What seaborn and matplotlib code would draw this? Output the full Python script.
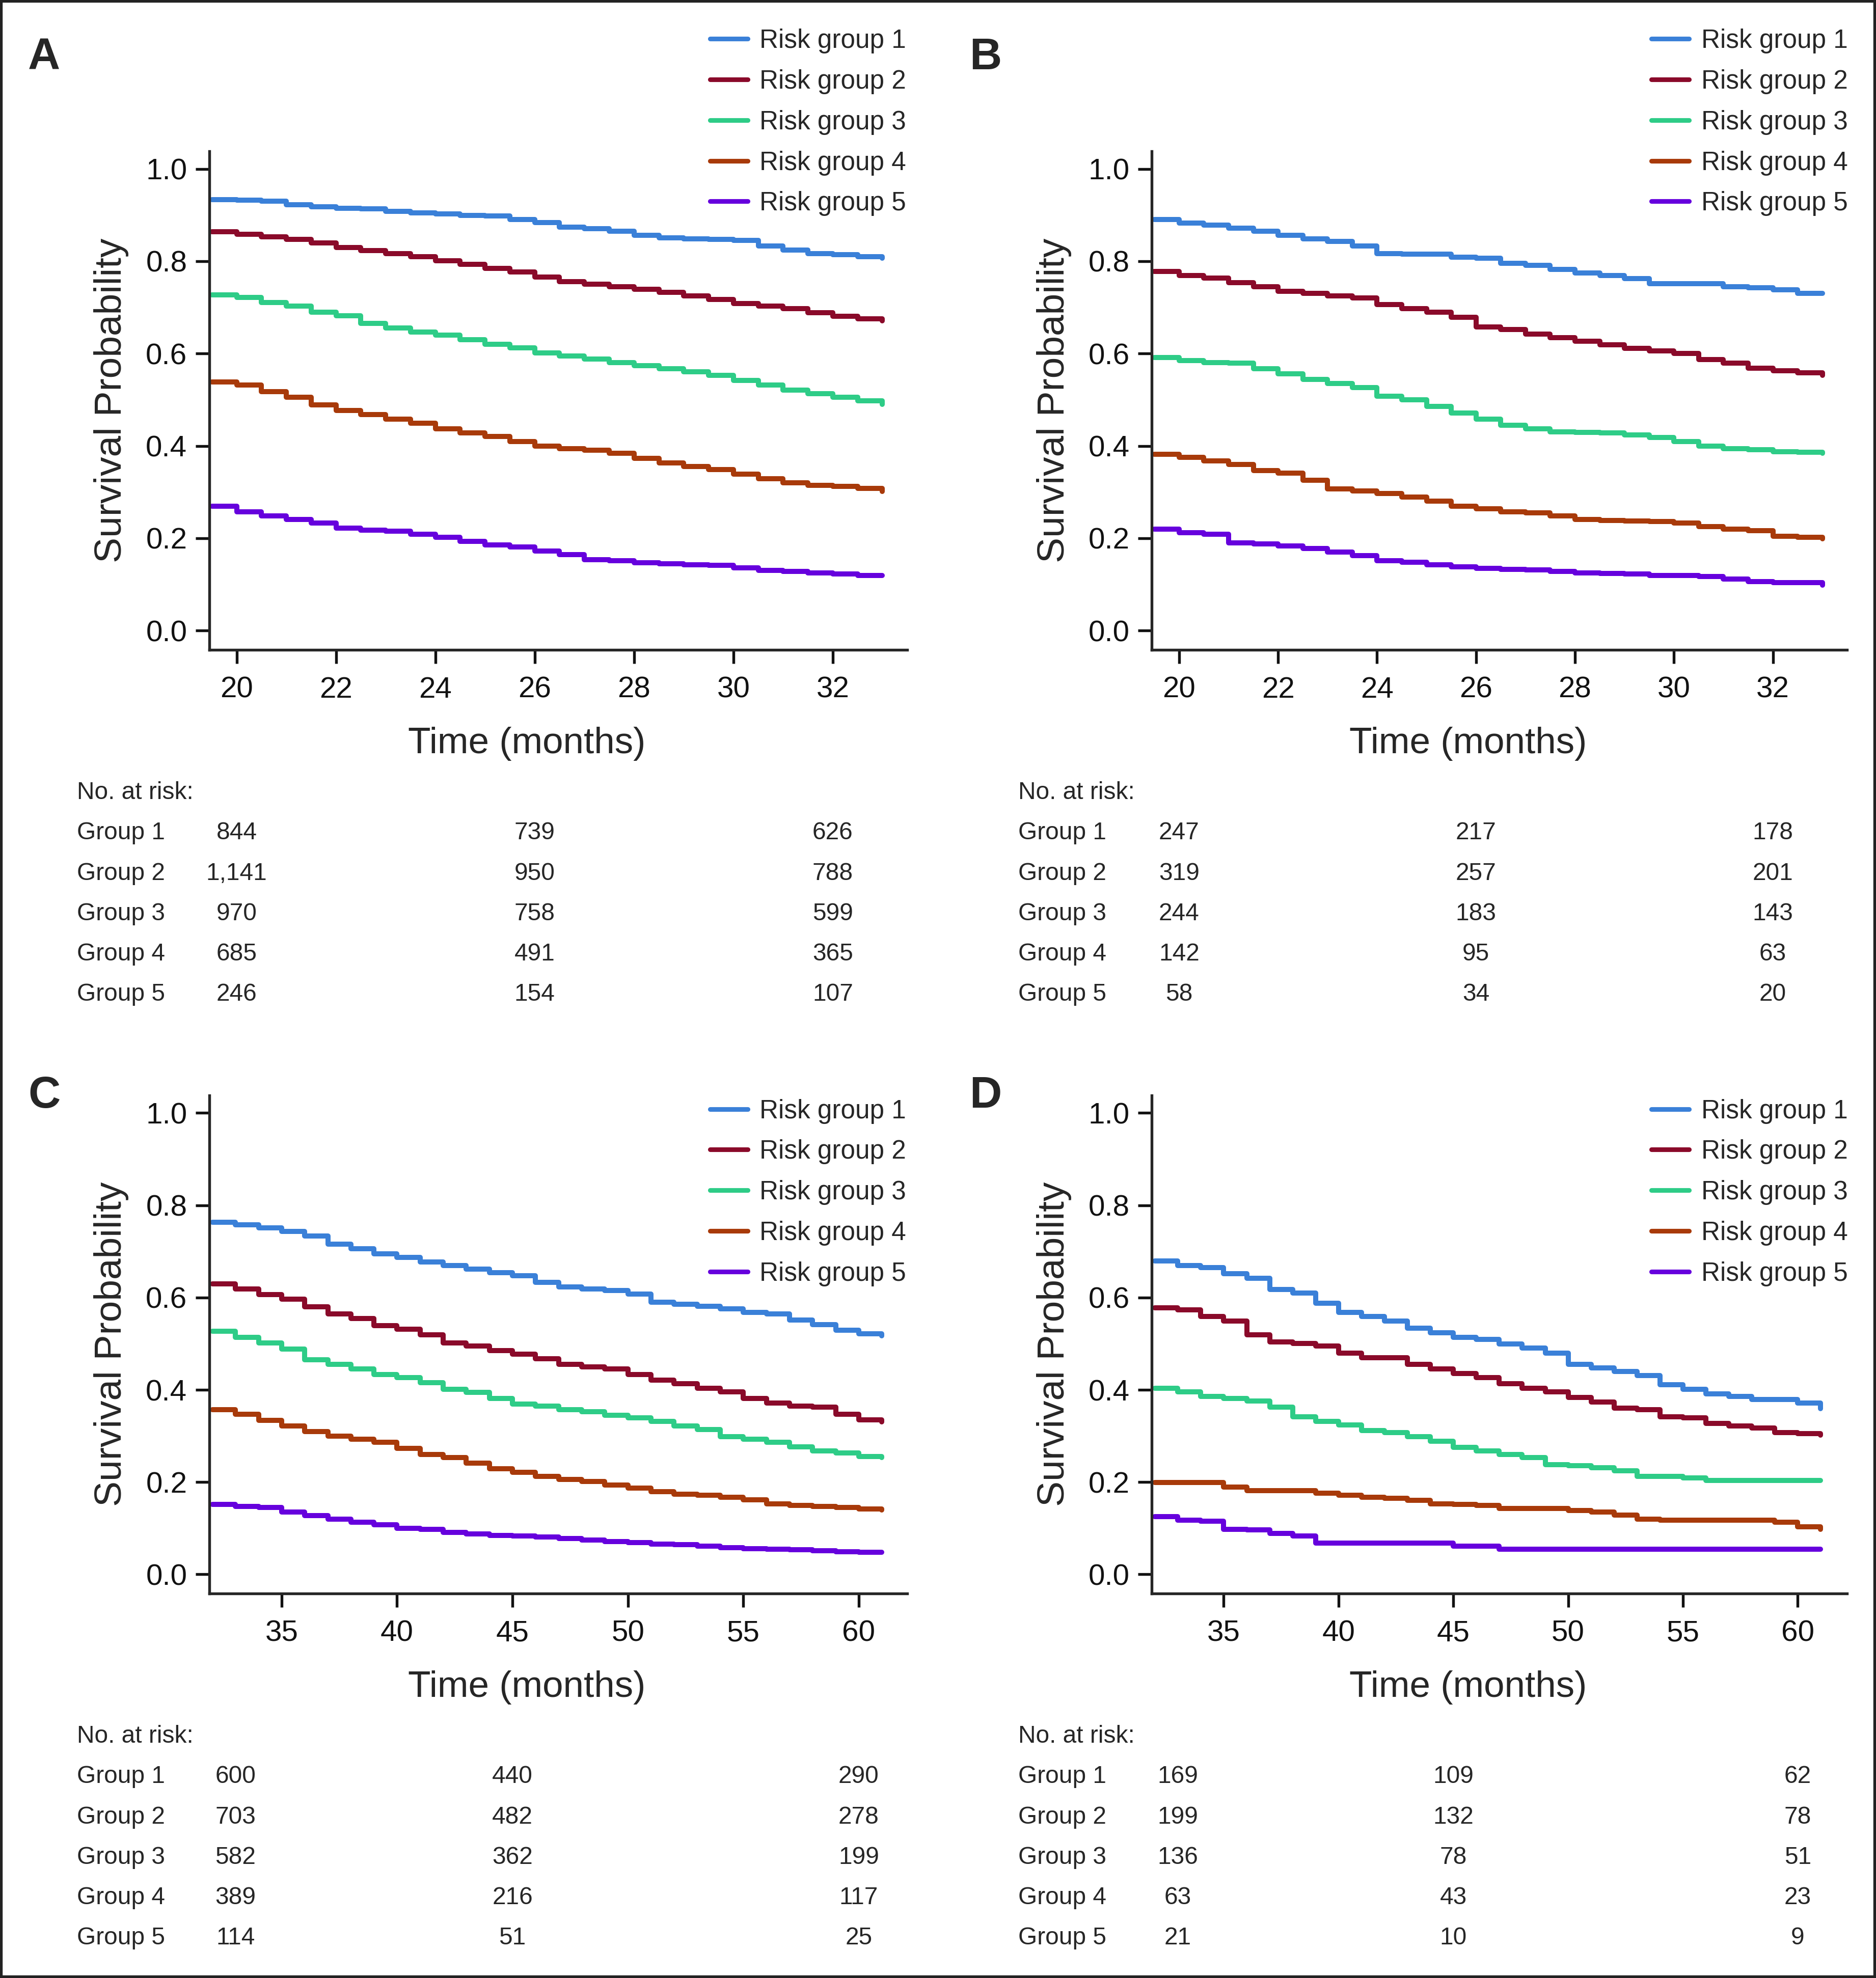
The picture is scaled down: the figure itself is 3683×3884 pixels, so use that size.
import matplotlib
matplotlib.use('Agg')
import matplotlib.pyplot as plt
import matplotlib.transforms as mtransforms
from matplotlib import font_manager
from matplotlib.patches import Rectangle
import seaborn as sns

# colours of the five risk groups
COLORS = ['#3A80D8', '#8A0A2A', '#2ECC87', '#A83A0A', '#6600DD']
GROUP_LABELS = ['Risk group 1', 'Risk group 2', 'Risk group 3', 'Risk group 4', 'Risk group 5']

# panels A and B: 19.5 - 33 months
times_ab = [19.5, 20, 20.5, 21, 21.5, 22, 22.5, 23, 23.5, 24, 24.5, 25, 25.5, 26,
            26.5, 27, 27.5, 28, 28.5, 29, 29.5, 30, 30.5, 31, 31.5, 32, 32.5, 33]

surv_a1 = [0.933, 0.932, 0.930, 0.922, 0.918, 0.915, 0.913, 0.908, 0.905, 0.903, 0.899, 0.898, 0.890, 0.884,
           0.874, 0.870, 0.865, 0.856, 0.851, 0.849, 0.847, 0.845, 0.833, 0.824, 0.817, 0.814, 0.810, 0.807]
surv_a2 = [0.864, 0.858, 0.853, 0.847, 0.840, 0.830, 0.823, 0.817, 0.810, 0.801, 0.793, 0.784, 0.777, 0.766,
           0.756, 0.750, 0.745, 0.739, 0.733, 0.725, 0.717, 0.708, 0.703, 0.697, 0.689, 0.681, 0.675, 0.671]
surv_a3 = [0.727, 0.722, 0.711, 0.703, 0.690, 0.682, 0.665, 0.655, 0.647, 0.640, 0.630, 0.620, 0.612, 0.601,
           0.595, 0.588, 0.580, 0.574, 0.567, 0.561, 0.553, 0.542, 0.532, 0.521, 0.513, 0.505, 0.498, 0.490]
surv_a4 = [0.539, 0.532, 0.518, 0.505, 0.489, 0.477, 0.468, 0.458, 0.449, 0.437, 0.428, 0.420, 0.410, 0.400,
           0.394, 0.391, 0.384, 0.373, 0.363, 0.356, 0.349, 0.339, 0.329, 0.320, 0.315, 0.312, 0.308, 0.301]
surv_a5 = [0.270, 0.257, 0.248, 0.241, 0.233, 0.222, 0.218, 0.215, 0.209, 0.202, 0.193, 0.186, 0.181, 0.172,
           0.165, 0.154, 0.151, 0.147, 0.145, 0.143, 0.141, 0.136, 0.130, 0.128, 0.125, 0.123, 0.119, 0.119]

surv_b1 = [0.890, 0.883, 0.878, 0.872, 0.865, 0.856, 0.849, 0.843, 0.833, 0.817, 0.815, 0.815, 0.809, 0.807,
           0.796, 0.791, 0.782, 0.775, 0.769, 0.762, 0.751, 0.751, 0.751, 0.745, 0.743, 0.738, 0.730, 0.730]
surv_b2 = [0.778, 0.769, 0.764, 0.754, 0.745, 0.735, 0.730, 0.725, 0.720, 0.706, 0.697, 0.690, 0.679, 0.658,
           0.652, 0.642, 0.634, 0.627, 0.619, 0.611, 0.606, 0.600, 0.587, 0.579, 0.568, 0.563, 0.558, 0.553]
surv_b3 = [0.592, 0.585, 0.581, 0.579, 0.567, 0.556, 0.544, 0.535, 0.526, 0.508, 0.500, 0.486, 0.471, 0.458,
           0.445, 0.437, 0.431, 0.429, 0.428, 0.424, 0.418, 0.410, 0.400, 0.394, 0.392, 0.387, 0.386, 0.384]
surv_b4 = [0.382, 0.375, 0.368, 0.360, 0.347, 0.341, 0.326, 0.307, 0.302, 0.297, 0.289, 0.280, 0.270, 0.264,
           0.257, 0.255, 0.248, 0.241, 0.239, 0.238, 0.236, 0.233, 0.225, 0.220, 0.217, 0.204, 0.202, 0.199]
surv_b5 = [0.220, 0.212, 0.209, 0.190, 0.188, 0.183, 0.178, 0.170, 0.162, 0.151, 0.148, 0.143, 0.138, 0.135,
           0.133, 0.132, 0.128, 0.125, 0.124, 0.123, 0.119, 0.119, 0.117, 0.112, 0.106, 0.104, 0.104, 0.098]

# panels C and D: 32 - 61 months
times_cd = [32, 33, 34, 35, 36, 37, 38, 39, 40, 41, 42, 43, 44, 45, 46,
            47, 48, 49, 50, 51, 52, 53, 54, 55, 56, 57, 58, 59, 60, 61]

surv_c1 = [0.763, 0.758, 0.751, 0.743, 0.733, 0.716, 0.706, 0.695, 0.687, 0.677, 0.669, 0.662, 0.654, 0.647, 0.633,
           0.623, 0.618, 0.615, 0.608, 0.590, 0.585, 0.581, 0.575, 0.568, 0.564, 0.551, 0.541, 0.529, 0.521, 0.517]
surv_c2 = [0.630, 0.618, 0.606, 0.596, 0.580, 0.564, 0.554, 0.539, 0.531, 0.519, 0.502, 0.495, 0.485, 0.477, 0.467,
           0.455, 0.450, 0.445, 0.433, 0.421, 0.413, 0.403, 0.396, 0.381, 0.371, 0.365, 0.362, 0.347, 0.335, 0.330]
surv_c3 = [0.527, 0.514, 0.501, 0.488, 0.465, 0.455, 0.445, 0.433, 0.426, 0.416, 0.401, 0.394, 0.381, 0.369, 0.365,
           0.357, 0.352, 0.345, 0.339, 0.332, 0.322, 0.314, 0.298, 0.293, 0.286, 0.276, 0.268, 0.263, 0.255, 0.253]
surv_c4 = [0.357, 0.347, 0.334, 0.322, 0.310, 0.300, 0.293, 0.286, 0.273, 0.260, 0.253, 0.241, 0.229, 0.221, 0.212,
           0.206, 0.201, 0.194, 0.187, 0.179, 0.174, 0.171, 0.167, 0.162, 0.153, 0.150, 0.147, 0.145, 0.142, 0.140]
surv_c5 = [0.152, 0.147, 0.145, 0.135, 0.127, 0.120, 0.113, 0.108, 0.100, 0.098, 0.091, 0.088, 0.084, 0.083, 0.081,
           0.078, 0.074, 0.071, 0.069, 0.066, 0.064, 0.061, 0.058, 0.056, 0.054, 0.053, 0.051, 0.049, 0.048, 0.048]

surv_d1 = [0.679, 0.669, 0.665, 0.652, 0.642, 0.617, 0.610, 0.588, 0.568, 0.559, 0.549, 0.534, 0.524, 0.514, 0.509,
           0.499, 0.490, 0.480, 0.455, 0.448, 0.440, 0.431, 0.411, 0.401, 0.391, 0.386, 0.379, 0.379, 0.371, 0.359]
surv_d2 = [0.578, 0.573, 0.559, 0.549, 0.519, 0.504, 0.500, 0.495, 0.480, 0.470, 0.470, 0.455, 0.445, 0.435, 0.426,
           0.413, 0.403, 0.396, 0.383, 0.373, 0.360, 0.357, 0.342, 0.339, 0.327, 0.322, 0.317, 0.307, 0.305, 0.302]
surv_d3 = [0.403, 0.396, 0.386, 0.381, 0.376, 0.362, 0.342, 0.332, 0.324, 0.312, 0.307, 0.298, 0.288, 0.275, 0.268,
           0.260, 0.253, 0.238, 0.235, 0.231, 0.224, 0.212, 0.212, 0.209, 0.204, 0.204, 0.204, 0.204, 0.204, 0.204]
surv_d4 = [0.199, 0.199, 0.199, 0.189, 0.182, 0.182, 0.182, 0.176, 0.172, 0.167, 0.165, 0.160, 0.153, 0.152, 0.150,
           0.143, 0.143, 0.143, 0.138, 0.135, 0.128, 0.120, 0.118, 0.118, 0.118, 0.118, 0.118, 0.113, 0.103, 0.098]
surv_d5 = [0.125, 0.118, 0.115, 0.098, 0.096, 0.089, 0.083, 0.068, 0.068, 0.068, 0.068, 0.068, 0.068, 0.061, 0.061,
           0.054, 0.054, 0.054, 0.054, 0.054, 0.054, 0.054, 0.054, 0.054, 0.054, 0.054, 0.054, 0.054, 0.054, 0.054]

# numbers at risk
risk_times_ab = [20, 26, 32]
risk_times_cd = [33, 45, 60]
at_risk_a = [[844, 739, 626], [1141, 950, 788], [970, 758, 599], [685, 491, 365], [246, 154, 107]]
at_risk_b = [[247, 217, 178], [319, 257, 201], [244, 183, 143], [142, 95, 63], [58, 34, 20]]
at_risk_c = [[600, 440, 290], [703, 482, 278], [582, 362, 199], [389, 216, 117], [114, 51, 25]]
at_risk_d = [[169, 109, 62], [199, 132, 78], [136, 78, 51], [63, 43, 23], [21, 10, 9]]

xticks_ab = [20, 22, 24, 26, 28, 30, 32]
xticks_cd = [35, 40, 45, 50, 55, 60]
yticks = [0.0, 0.2, 0.4, 0.6, 0.8, 1.0]


sns.set_style('ticks')
names = {f.name for f in font_manager.fontManager.ttflist}
BASE = 'Liberation Sans' if 'Liberation Sans' in names else 'DejaVu Sans'
plt.rcParams['font.family'] = [BASE, 'DejaVu Sans']

fig = plt.figure(figsize=(3683 / 300, 3884 / 300), dpi=300)


def km_panel(rect, letter, letter_xy, times, curves, xlim, xticks, legend_xy,
             risk_times, at_risk, table_x, table_y):
    ax = fig.add_axes(rect)
    for surv, col, lab in zip(curves, COLORS, GROUP_LABELS):
        sns.lineplot(x=times, y=surv, color=col, lw=2.4, drawstyle='steps-post',
                     estimator=None, label=lab, ax=ax)
    ax.set_xlim(*xlim)
    ax.set_ylim(-0.041, 1.038)
    ax.set_xticks(xticks)
    ax.set_yticks(yticks)
    ax.set_yticklabels([f'{v:.1f}' for v in yticks])
    sns.despine(ax=ax)
    for sp in ('left', 'bottom'):
        ax.spines[sp].set_linewidth(1.3)
    ax.tick_params(length=6.5, width=1.3, labelsize=14, pad=4, colors='#111111')
    ax.tick_params(axis='x', pad=6)
    ax.set_xlabel('Time (months)', fontsize=17.5)
    ax.set_ylabel('Survival Probability', fontsize=18)
    ax.xaxis.set_label_coords(0.455, -0.155)
    ax.yaxis.set_label_coords(-0.115, 0.5)

    leg = ax.legend(loc='upper left', bbox_to_anchor=legend_xy, bbox_transform=fig.transFigure,
                    frameon=False, fontsize=12.3, handlelength=1.44, handletextpad=0.46,
                    labelspacing=0.6, borderpad=0, borderaxespad=0)
    for line in leg.get_lines():
        line.set_linewidth(2.2)

    fig.text(letter_xy[0], letter_xy[1], letter, fontsize=21, fontweight='bold',
             ha='center', va='center')

    # number at risk table
    trans = mtransforms.blended_transform_factory(ax.transData, fig.transFigure)
    fig.text(table_x, table_y, 'No. at risk:', fontsize=11.5, va='center')
    for i, row in enumerate(at_risk):
        y = table_y - 0.0204 * (i + 1)
        fig.text(table_x, y, f'Group {i + 1}', fontsize=11.5, va='center')
        for t, n in zip(risk_times, row):
            ax.text(t, y, f'{n:,}', transform=trans, fontsize=11.5,
                    ha='center', va='center', clip_on=False)
    return ax


km_panel([0.1116, 0.6716, 0.372, 0.2519], 'A', (0.0236, 0.9708), times_ab,
         [surv_a1, surv_a2, surv_a3, surv_a4, surv_a5], (19.45, 33.5), xticks_ab,
         (0.3785, 0.9855), risk_times_ab, at_risk_a, 0.041, 0.5992)
km_panel([0.6140, 0.6716, 0.3706, 0.2519], 'B', (0.5252, 0.9708), times_ab,
         [surv_b1, surv_b2, surv_b3, surv_b4, surv_b5], (19.45, 33.5), xticks_ab,
         (0.8803, 0.9855), risk_times_ab, at_risk_b, 0.5427, 0.5992)
km_panel([0.1116, 0.1945, 0.372, 0.2517], 'C', (0.0236, 0.4458), times_cd,
         [surv_c1, surv_c2, surv_c3, surv_c4, surv_c5], (31.87, 62.1), xticks_cd,
         (0.3785, 0.4445), risk_times_cd, at_risk_c, 0.041, 0.1221)
km_panel([0.6140, 0.1945, 0.3706, 0.2517], 'D', (0.5252, 0.4458), times_cd,
         [surv_d1, surv_d2, surv_d3, surv_d4, surv_d5], (31.87, 62.15), xticks_cd,
         (0.8803, 0.4445), risk_times_cd, at_risk_d, 0.5427, 0.1221)

# thin frame around the whole figure
fig.patches.append(Rectangle((0, 0), 1, 1, transform=fig.transFigure, fill=False,
                             edgecolor='#222222', linewidth=2.5))

fig.savefig('out.png', dpi=300)
